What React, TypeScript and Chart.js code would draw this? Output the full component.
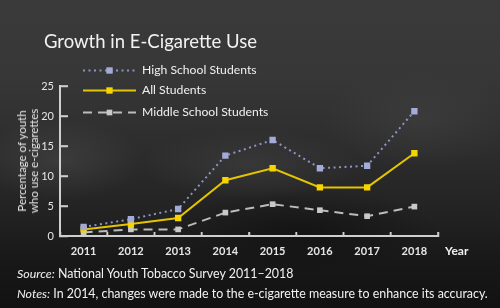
import React, { useEffect, useRef } from "react";
import { Chart, registerables } from "chart.js";

Chart.register(...registerables);

const years = ["2011", "2012", "2013", "2014", "2015", "2016", "2017", "2018"];
const highSchool = [1.5, 2.8, 4.5, 13.4, 16.0, 11.3, 11.7, 20.8];
const allStudents = [1.1, 2.0, 3.0, 9.3, 11.3, 8.1, 8.1, 13.8];
const middleSchool = [0.6, 1.1, 1.1, 3.9, 5.3, 4.3, 3.3, 4.9];
const yTicks = [0, 5, 10, 15, 20, 25];
const seriesLabels = ["High School Students", "All Students", "Middle School Students"];

const FONT = "Lato, 'Open Sans', sans-serif";
const AXIS_COLOR = "#cfcfcf";

function drawAxesOn(ctx: CanvasRenderingContext2D, chart: any) {
  const { chartArea, scales } = chart;
  const x = scales.x;
  const y = scales.y;
  ctx.clearRect(0, 0, 500, 308);
  ctx.save();
  ctx.setLineDash([]);
  ctx.strokeStyle = AXIS_COLOR;
  ctx.lineWidth = 2;
  ctx.beginPath();
  ctx.moveTo(chartArea.left, y.getPixelForValue(25));
  ctx.lineTo(chartArea.left, chartArea.bottom);
  ctx.lineTo(chartArea.right, chartArea.bottom);
  ctx.stroke();
  ctx.lineWidth = 1.5;
  ctx.beginPath();
  yTicks.forEach((v) => {
    if (v === 0) return;
    const py = y.getPixelForValue(v);
    ctx.moveTo(chartArea.left, py);
    ctx.lineTo(chartArea.left + 8, py);
  });
  const step = x.getPixelForValue(1) - x.getPixelForValue(0);
  for (let i = 0; i < years.length; i++) {
    const px = x.getPixelForValue(i) + step / 2;
    ctx.moveTo(px, chartArea.bottom);
    ctx.lineTo(px, chartArea.bottom - 4);
  }
  ctx.stroke();
  ctx.restore();
}

export default function App() {
  const ref = useRef<HTMLCanvasElement | null>(null);
  const overlayRef = useRef<HTMLCanvasElement | null>(null);

  useEffect(() => {
    if (!ref.current) return;
    const legendPlugin = {
      id: "customLegend",
      afterDraw(chart: any) {
        const { ctx } = chart;
        const rows = [70.5, 90.5, 112.5];
        ctx.save();
        chart.data.datasets.forEach((ds: any, i: number) => {
          const yy = rows[i];
          ctx.strokeStyle = ds.borderColor;
          ctx.lineWidth = ds.borderWidth;
          ctx.setLineDash(ds.borderDash || []);
          ctx.beginPath();
          ctx.moveTo(83, yy);
          ctx.lineTo(136, yy);
          ctx.stroke();
          ctx.setLineDash([]);
          const s = ds.pointRadius * Math.SQRT1_2;
          ctx.fillStyle = ds.pointBackgroundColor;
          ctx.fillRect(109.5 - s, yy - s, 2 * s, 2 * s);
          ctx.fillStyle = "#f0f0f0";
          ctx.font = `12.2px ${FONT}`;
          ctx.textBaseline = "middle";
          ctx.textAlign = "left";
          ctx.fillText(ds.label, 142, yy);
        });
        ctx.restore();
        const oc = overlayRef.current;
        if (oc) {
          const octx = oc.getContext("2d");
          if (octx) drawAxesOn(octx, chart);
        }
      },
    };
    const chart = new Chart(ref.current, {
      type: "line",
      data: {
        labels: years,
        datasets: [
          {
            label: seriesLabels[0],
            data: highSchool,
            borderColor: "#8d94c6",
            borderWidth: 2,
            borderDash: [2, 3.5],
            pointStyle: "rect",
            pointRadius: 4.5,
            pointBackgroundColor: "#a3abd9",
            pointBorderWidth: 0,
            pointBorderColor: "#a3abd9",
          },
          {
            label: seriesLabels[1],
            data: allStudents,
            borderColor: "#e3c400",
            borderWidth: 2,
            pointStyle: "rect",
            pointRadius: 4.5,
            pointBackgroundColor: "#f6d400",
            pointBorderWidth: 0,
            pointBorderColor: "#f6d400",
          },
          {
            label: seriesLabels[2],
            data: middleSchool,
            borderColor: "#bcbcbc",
            borderWidth: 2,
            borderDash: [9, 6],
            pointStyle: "rect",
            pointRadius: 4,
            pointBackgroundColor: "#c9c9c9",
            pointBorderWidth: 0,
            pointBorderColor: "#c9c9c9",
          },
        ],
      },
      options: {
        responsive: false,
        animation: false,
        layout: { padding: { top: 86, right: 62, left: 0, bottom: 0 } },
        plugins: { legend: { display: false }, tooltip: { enabled: false } },
        scales: {
          x: {
            offset: true,
            border: { display: true, color: AXIS_COLOR, width: 2 },
            grid: {
              display: true,
              offset: true,
              drawOnChartArea: false,
              drawTicks: true,
              tickLength: -4,
              tickColor: AXIS_COLOR,
              tickWidth: 1.5,
              color: AXIS_COLOR,
            },
            ticks: { color: "#e6e6e6", font: { family: FONT, size: 11, weight: "bold" }, padding: 13, maxRotation: 0 },
            afterFit: (s: any) => {
              s.height = 72;
            },
          },
          y: {
            min: 0,
            max: 25,
            border: { display: true, color: AXIS_COLOR, width: 2 },
            grid: {
              display: true,
              drawOnChartArea: false,
              drawTicks: true,
              tickLength: -8,
              tickColor: AXIS_COLOR,
              tickWidth: 1.5,
              color: AXIS_COLOR,
            },
            ticks: { stepSize: 5, color: "#e6e6e6", font: { family: FONT, size: 11 }, padding: 14 },
            afterFit: (s: any) => {
              s.width = 60;
            },
          },
        },
      },
      plugins: [legendPlugin],
    });
    return () => chart.destroy();
  }, []);

  const bg = [
    "radial-gradient(ellipse 120px 60px at 60px 160px, rgba(90,90,90,0.35), rgba(0,0,0,0) 70%)",
    "radial-gradient(ellipse 160px 50px at 250px 165px, rgba(80,80,80,0.35), rgba(0,0,0,0) 70%)",
    "radial-gradient(ellipse 140px 70px at 420px 120px, rgba(80,80,80,0.3), rgba(0,0,0,0) 70%)",
    "radial-gradient(ellipse 200px 60px at 300px 230px, rgba(10,10,10,0.5), rgba(0,0,0,0) 70%)",
    "linear-gradient(to bottom, #3a3a3a 0%, #373737 25%, #2c2c2c 50%, #222 70%, #181818 85%, #121212 100%)",
  ].join(", ");

  return (
    <div
      style={{
        position: "fixed",
        left: 0,
        top: 0,
        width: 500,
        height: 308,
        background: bg,
        fontFamily: FONT,
        color: "#f2f2f2",
        overflow: "hidden",
      }}
    >
      <canvas ref={ref} width={500} height={308} style={{ position: "absolute", left: 0, top: 0, width: 500, height: 308 }} />
      <div style={{ position: "absolute", left: 44, top: 30, fontSize: 18.5, lineHeight: "22px", whiteSpace: "nowrap" }}>
        Growth in E-Cigarette Use
      </div>
      <div
        style={{
          position: "absolute",
          left: 28,
          top: 161,
          transform: "translate(-50%, -50%) rotate(-90deg)",
          fontSize: 11.5,
          lineHeight: "12px",
          textAlign: "center",
          whiteSpace: "nowrap",
          color: "#e6e6e6",
        }}
      >
        Percentage of youth
        <br />
        who use e-cigarettes
      </div>
      <div style={{ position: "absolute", left: 445, top: 243, fontSize: 12, fontWeight: "bold", color: "#f0f0f0" }}>Year</div>
      <div style={{ position: "absolute", left: 17, top: 264, fontSize: 12.4, lineHeight: "20px", whiteSpace: "nowrap" }}>
        <div>
          <i>Source:</i> National Youth Tobacco Survey 2011–2018
        </div>
        <div>
          <i>Notes:</i> In 2014, changes were made to the e-cigarette measure to enhance its accuracy.
        </div>
      </div>
      <canvas
        ref={overlayRef}
        width={500}
        height={308}
        style={{ position: "absolute", left: 0, top: 0, width: 500, height: 308, zIndex: 10, pointerEvents: "none" }}
      />
    </div>
  );
}
